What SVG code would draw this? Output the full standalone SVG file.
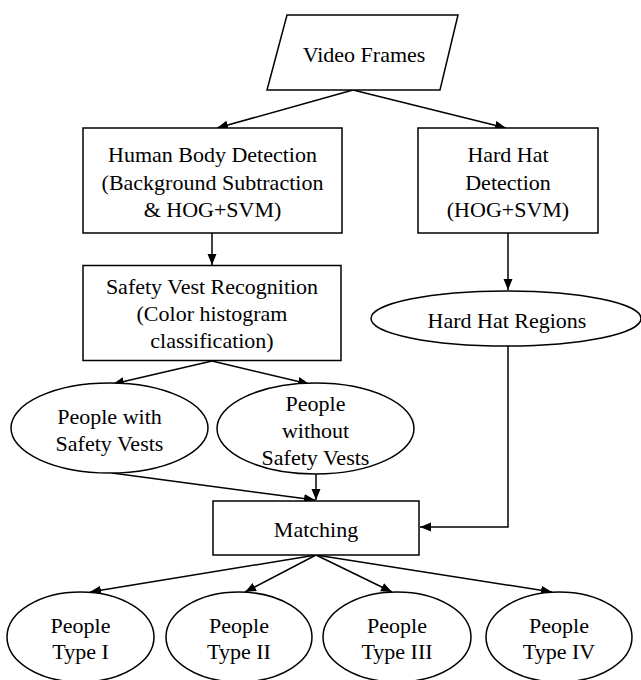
<svg xmlns="http://www.w3.org/2000/svg" width="641" height="680" viewBox="0 0 641 680">
<style>
.s{fill:#fff;stroke:#000;stroke-width:1.5}
.t{font-family:"Liberation Serif","Times New Roman",serif;font-size:22px;fill:#000;text-anchor:middle}
.c{fill:none;stroke:#000;stroke-width:1.5}
</style>
<defs>
<marker id="ah" markerUnits="userSpaceOnUse" markerWidth="12" markerHeight="10" refX="11" refY="4.5" orient="auto">
<path d="M0,0 L11,4.5 L0,9 z" fill="#000"/>
</marker>
</defs>
<rect width="641" height="680" fill="#fff"/>
<g id="connectors">
<path class="c" d="M353,90 L217,128" marker-end="url(#ah)"/>
<path class="c" d="M353,90 L506,128" marker-end="url(#ah)"/>
<path class="c" d="M212,233 L212,265" marker-end="url(#ah)"/>
<path class="c" d="M508,233 L508,290" marker-end="url(#ah)"/>
<path class="c" d="M212,361 L113,384" marker-end="url(#ah)"/>
<path class="c" d="M212,361 L309,384" marker-end="url(#ah)"/>
<path class="c" d="M112,473 L315,500" marker-end="url(#ah)"/>
<path class="c" d="M316,474 L316,500" marker-end="url(#ah)"/>
<path class="c" d="M508,346 L508,527 L420,527" marker-end="url(#ah)"/>
<path class="c" d="M316,555 L90,592" marker-end="url(#ah)"/>
<path class="c" d="M316,555 L245,592" marker-end="url(#ah)"/>
<path class="c" d="M316,555 L392,592" marker-end="url(#ah)"/>
<path class="c" d="M316,555 L552,592" marker-end="url(#ah)"/>
</g>
<g id="video-frames">
<polygon class="s" points="287,15 458,15 440,90 267,90"/>
<text class="t" x="364" y="62">Video Frames</text>
</g>
<g id="human-body-detection">
<rect class="s" x="83" y="128" width="259" height="105"/>
<text class="t" x="212.5" y="162">Human Body Detection</text>
<text class="t" x="212.5" y="189.5">(Background Subtraction</text>
<text class="t" x="212.5" y="217">&amp; HOG+SVM)</text>
</g>
<g id="hard-hat-detection">
<rect class="s" x="418" y="128" width="180" height="105"/>
<text class="t" x="508" y="162">Hard Hat</text>
<text class="t" x="508" y="189.5">Detection</text>
<text class="t" x="508" y="217">(HOG+SVM)</text>
</g>
<g id="safety-vest-recognition">
<rect class="s" x="83" y="265.5" width="258" height="95"/>
<text class="t" x="212" y="294">Safety Vest Recognition</text>
<text class="t" x="212" y="321">(Color histogram</text>
<text class="t" x="212" y="348">classification)</text>
</g>
<g id="hard-hat-regions">
<ellipse class="s" cx="506" cy="318.5" rx="135" ry="27.5"/>
<text class="t" x="507" y="327.5">Hard Hat Regions</text>
</g>
<g id="people-with-vests">
<ellipse class="s" cx="109.5" cy="428" rx="98.5" ry="45"/>
<text class="t" x="109.5" y="424">People with</text>
<text class="t" x="109.5" y="451">Safety Vests</text>
</g>
<g id="people-without-vests">
<ellipse class="s" cx="315.5" cy="428.5" rx="98.5" ry="45.5"/>
<text class="t" x="315.5" y="410.7">People</text>
<text class="t" x="315.5" y="437.7">without</text>
<text class="t" x="315.5" y="465">Safety Vests</text>
</g>
<g id="matching">
<rect class="s" x="213" y="501" width="206" height="54"/>
<text class="t" x="316" y="537">Matching</text>
</g>
<g id="type-1">
<ellipse class="s" cx="80.5" cy="637" rx="73.5" ry="45"/>
<text class="t" x="80.5" y="633">People</text>
<text class="t" x="80.5" y="659">Type I</text>
</g>
<g id="type-2">
<ellipse class="s" cx="239" cy="637" rx="73" ry="45"/>
<text class="t" x="239" y="633">People</text>
<text class="t" x="239" y="659">Type II</text>
</g>
<g id="type-3">
<ellipse class="s" cx="397" cy="637" rx="74" ry="45"/>
<text class="t" x="397" y="633">People</text>
<text class="t" x="397" y="659">Type III</text>
</g>
<g id="type-4">
<ellipse class="s" cx="559" cy="637" rx="73" ry="45"/>
<text class="t" x="559" y="633">People</text>
<text class="t" x="559" y="659">Type IV</text>
</g>
</svg>
